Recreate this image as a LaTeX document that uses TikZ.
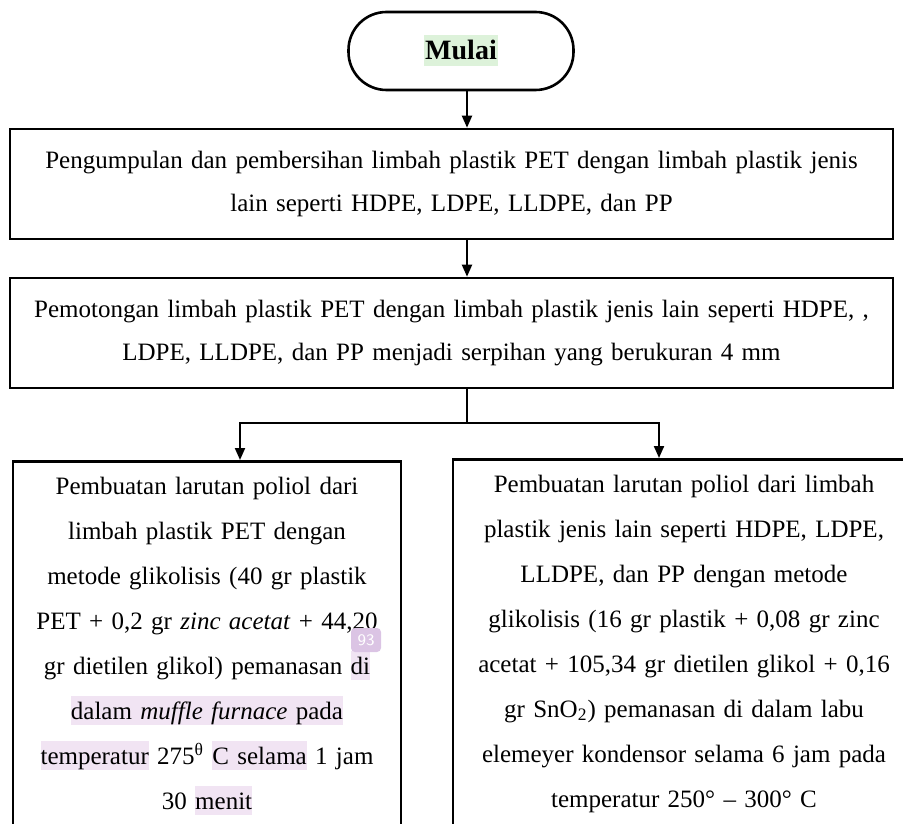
\documentclass[tikz,border=0pt]{standalone}
\usepackage{fontspec}
\setmainfont{Liberation Serif}
\usetikzlibrary{calc,arrows.meta}

\definecolor{hlpurple}{RGB}{241,228,243}
\definecolor{hlgreen}{RGB}{221,242,218}
\definecolor{notepurple}{RGB}{219,196,228}
\newcommand{\hlword}[1]{{\setlength{\fboxsep}{0pt}\colorbox{hlpurple}{\rule[-3pt]{0pt}{14.5pt}#1}}}
\newcommand{\hlstart}[1]{{\setlength{\fboxsep}{0.5pt}\colorbox{hlgreen}{\rule[-3pt]{0pt}{14.5pt}#1}}}

\tikzset{
  procbox/.style={draw, line width=1.3pt, align=center, inner xsep=4pt,
    font=\fontsize{12.5}{21.5}\selectfont},
  flowarrow/.style={line width=1pt, -{Triangle[length=6pt,width=5pt]}},
}

\begin{document}
\begin{tikzpicture}[x=0.5pt,y=-0.5pt]
  \useasboundingbox (0,0) rectangle (903,823);
  \clip (0,0) rectangle (903,823);

  %% Start terminal
  \node[draw, line width=1.3pt, rounded corners=19pt, minimum width=112.5pt,
        minimum height=39pt, font=\fontsize{14}{16}\selectfont] (mulai) at (461,51)
        {\hlstart{\textbf{Mulai}}};

  %% Process boxes across the full width
  \node[procbox, minimum height=55pt, text width=433.5pt] (kumpul) at (451.5,184)
    {Pengumpulan dan pembersihan limbah plastik PET dengan limbah plastik jenis\\
     lain seperti HDPE, LDPE, LLDPE, dan PP};
  \node[procbox, minimum height=55pt, text width=433.5pt] (potong) at (451.5,333)
    {Pemotongan limbah plastik PET dengan limbah plastik jenis lain seperti HDPE, ,\\
     LDPE, LLDPE, dan PP menjadi serpihan yang berukuran 4 mm};

  %% The two branches (bottoms run past the page)
  \node[procbox, anchor=north, text width=186pt, inner ysep=7.8pt, text depth=195pt,
        font=\fontsize{12.5}{22.5}\selectfont] (poliolpet) at (207,460)
    {Pembuatan larutan poliol dari\\
     limbah plastik PET dengan\\
     metode glikolisis (40 gr plastik\\
     PET + 0,2 gr \emph{zinc acetat} + 44,20\\
     gr dietilen glikol) pemanasan \hlword{di}\\
     \hlword{dalam \emph{muffle furnace} pada}\\
     \hlword{temperatur} 275\textsuperscript{θ} \hlword{C selama} 1 jam\\
     30 \hlword{menit}};
  \node[procbox, anchor=north, text width=223pt, inner ysep=7.8pt, text depth=195pt,
        font=\fontsize{12.5}{22.5}\selectfont] (poliollain) at (684,458)
    {Pembuatan larutan poliol dari limbah\\
     plastik jenis lain seperti HDPE, LDPE,\\
     LLDPE, dan PP dengan metode\\
     glikolisis (16 gr plastik + 0,08 gr zinc\\
     acetat + 105,34 gr dietilen glikol + 0,16\\
     gr SnO\textsubscript{2}) pemanasan di dalam labu\\
     elemeyer kondensor selama 6 jam pada\\
     temperatur 250° – 300° C};

  %% Note marker
  \node[fill=notepurple, rounded corners=2pt, text=white, inner sep=1pt,
        minimum width=15pt, minimum height=12pt,
        font=\sffamily\fontsize{8}{8}\selectfont] (catatan) at (366,640) {93};

  %% Connectors
  \coordinate (spine) at (467,0);
  \coordinate (cabang) at (467,423);
  \coordinate (cabangkiri) at (240,423);
  \coordinate (cabangkanan) at (659,423);
  \draw[flowarrow] (mulai.south -| spine) -- (kumpul.north -| spine);
  \draw[flowarrow] (kumpul.south -| spine) -- (potong.north -| spine);
  \draw[line width=1pt] (potong.south -| spine) -- (cabang);
  \draw[flowarrow] (cabang) -- (cabangkiri) -- (poliolpet.north -| cabangkiri);
  \draw[flowarrow] (cabang) -- (cabangkanan) -- (poliollain.north -| cabangkanan);
\end{tikzpicture}
\end{document}
